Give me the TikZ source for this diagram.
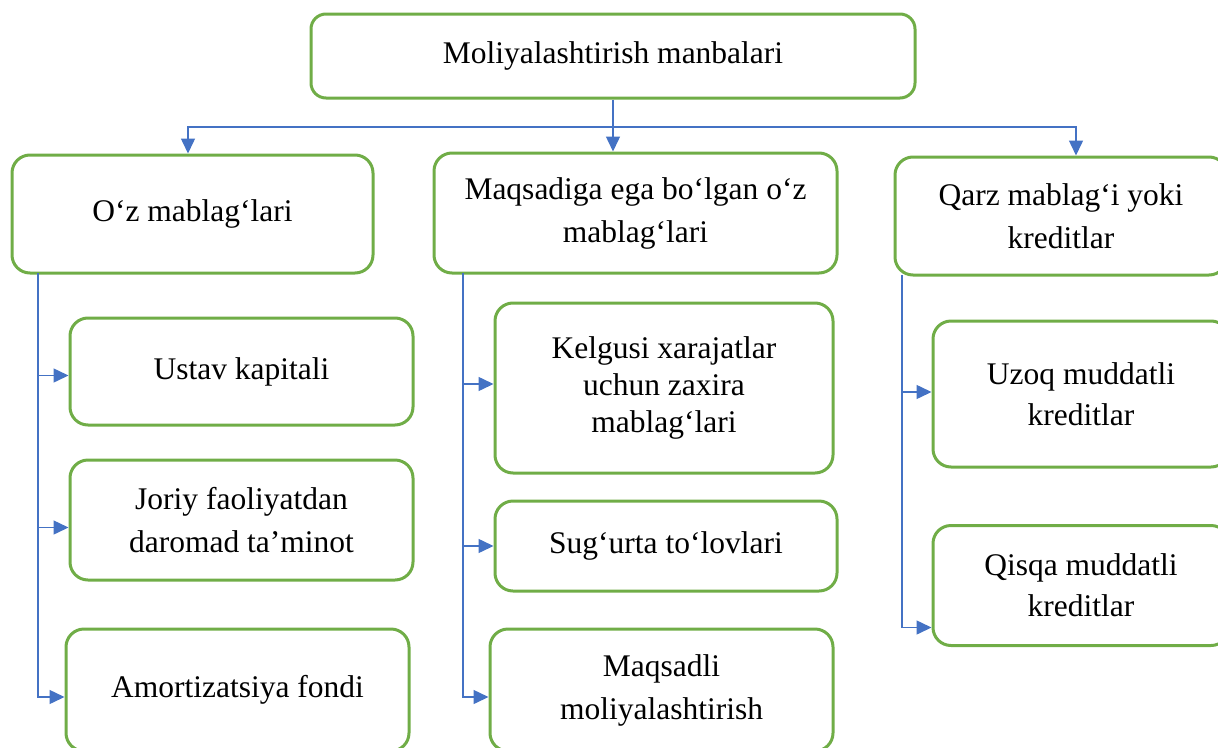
\documentclass[tikz,border=0pt]{standalone}
\usepackage{fontspec}
\setmainfont{Liberation Serif}
\usetikzlibrary{arrows.meta}
\usepackage{xcolor}
\newcommand{\TxtTop}{Moliyalashtirish manbalari}
\newcommand{\TxtOwn}{O‘z mablag‘lari}
\newcommand{\TxtTarget}{Maqsadiga ega bo‘lgan o‘z\\mablag‘lari}
\newcommand{\TxtLoan}{Qarz mablag‘i yoki\\kreditlar}
\definecolor{mygreen}{rgb}{0.439,0.678,0.278}
\definecolor{myblue}{rgb}{0.267,0.447,0.769}

\begin{document}
\begin{tikzpicture}[x=1pt,y=-1pt,>={Triangle[length=15pt,width=14pt]},
  box/.style={draw=mygreen, line width=3pt, rounded corners=18pt, align=center,
    inner sep=0pt, font=\fontsize{31.5}{43}\selectfont},
  link/.style={->, myblue, line width=1.5pt}]
  \useasboundingbox (0,0) rectangle (1218,747);
  \node[box, minimum width=604pt, minimum height=84pt, rounded corners=15pt] (Top) at (613,56) {\TxtTop};
  \node[box, minimum width=361pt, minimum height=118pt]  (Own)      at (192.5,214)  {\TxtOwn};
  \node[box, minimum width=403pt, minimum height=120pt]  (Target)   at (635.5,213)  {\TxtTarget};
  \node[box, minimum width=332pt, minimum height=118pt]  (Loan)     at (1061,216)   {\TxtLoan};
  \node[box, minimum width=343pt, minimum height=107pt]  (Ustav)    at (241.5,371.5) {Ustav kapitali};
  \node[box, minimum width=343pt, minimum height=120pt]  (Joriy)    at (241.5,520)  {Joriy faoliyatdan\\daromad ta’minot};
  \node[box, minimum width=343pt, minimum height=122pt]  (Amort)    at (237.5,690)  {Amortizatsiya fondi};
  \node[box, minimum width=338pt, minimum height=170pt, font=\fontsize{31.5}{37}\selectfont] (Kelgusi) at (664,388) {Kelgusi xarajatlar\\uchun zaxira\\mablag‘lari};
  \node[box, minimum width=342pt, minimum height=90pt]   (Sugurta)  at (666,546)    {Sug‘urta to‘lovlari};
  \node[box, minimum width=343pt, minimum height=122pt]  (Maqsadli) at (661.5,690)  {Maqsadli\\moliyalashtirish};
  \node[box, minimum width=296pt, minimum height=146pt, font=\fontsize{31.5}{41}\selectfont] (Uzoq) at (1081,394) {Uzoq muddatli\\kreditlar};
  \node[box, minimum width=296pt, minimum height=120pt, font=\fontsize{31.5}{41}\selectfont] (Qisqa) at (1081,585.5) {Qisqa muddatli\\kreditlar};
  \coordinate (Split)       at (612,127);
  \coordinate (OwnTrunk)    at (38,273);
  \coordinate (TargetTrunk) at (463,273);
  \coordinate (LoanTrunk)   at (902,275);
  % top level
  \draw[link] (Top.south) -- (Top.south |- Target.north);
  \draw[link] (Split) -| ([xshift=-4.5pt]Own.north);
  \draw[link] (Split) -| ([xshift=15pt]Loan.north);
  % left column
  \draw[link] (OwnTrunk) |- ([yshift=-4pt]Ustav.west);
  \draw[link] (OwnTrunk) |- ([yshift=-7.5pt]Joriy.west);
  \draw[link] (OwnTrunk) |- ([yshift=-7pt]Amort.west);
  % middle column
  \draw[link] (TargetTrunk) |- ([yshift=4pt]Kelgusi.west);
  \draw[link] (TargetTrunk) |- (Sugurta.west);
  \draw[link] (TargetTrunk) |- ([yshift=-7pt]Maqsadli.west);
  % right column
  \draw[link] (LoanTrunk) |- ([yshift=2pt]Uzoq.west);
  \draw[link] (LoanTrunk) |- ([yshift=-42pt]Qisqa.west);
\end{tikzpicture}
\end{document}
